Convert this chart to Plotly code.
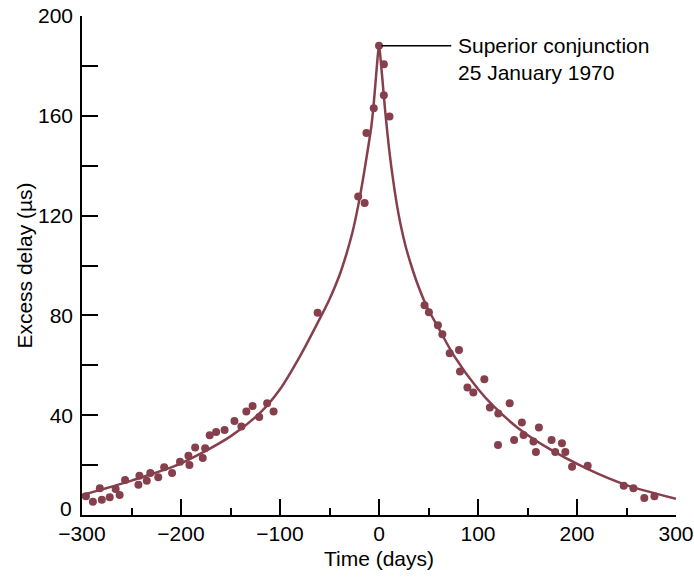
import plotly.graph_objects as go

# measured excess delay points (days, microseconds)
obs_days = [-296, -289, -282, -280, -272, -266, -262, -256.5, -243, -242,
            -234.6, -231, -223, -217, -209, -201, -192.5, -191.5, -185.7, -178,
            -175.6, -171, -164.5, -156, -146, -139, -134, -127.7, -121, -113,
            -106.5, -62, -21, -14.5, -12.7, -5.3, 0, 4.9, 4.9, 10.6,
            46, 50.4, 59.5, 64, 71.4, 80.8, 81.8, 89.3, 95.3, 106.4,
            112, 120.5, 120.2, 132, 136.5, 144.3, 146, 156, 158.5, 161.5,
            174.3, 178, 184.8, 188.2, 195, 210.8, 247.2, 257, 268, 278.2]
obs_delay = [7.5, 5.3, 10.7, 6.1, 7.1, 10.4, 8, 14, 12.1, 15.7,
             13.7, 16.8, 15.1, 19.1, 16.8, 21.3, 23.7, 20, 27.1, 22.8,
             26.8, 32, 33.3, 34.1, 37.7, 35.5, 41.5, 43.7, 39.3, 44.8,
             41.5, 81.1, 127.7, 125.1, 153.1, 163, 188.1, 180.7, 168.2, 159.7,
             84.1, 81.3, 76.1, 72.4, 64.8, 66.1, 57.5, 51.1, 49.1, 54.4,
             43.1, 40.7, 28.1, 44.8, 30.1, 37.1, 32.1, 29.5, 25.3, 35.1,
             30.1, 25.3, 28.8, 25.3, 19.3, 19.7, 11.7, 10.7, 6.8, 7.5]

# predicted curve
fit_days = [-300, -250, -200, -150, -120, -100, -80, -62, -50, -40,
            -33, -27, -21, -16, -11.5, -8, -6, -4, -2, 0,
            2, 4, 6, 8.5, 11, 14, 18, 22, 27, 33,
            39, 48, 60, 76, 100, 116, 140, 170, 211, 250, 300]
fit_delay = [8, 13.8, 20.7, 31.5, 41, 50.4, 63.5, 77, 86.5, 96,
             104.5, 113, 124, 135, 146, 155, 162, 171, 180.5, 188.5,
             181, 172, 163, 153, 144, 135, 124.5, 116, 107.5, 99.5,
             92.5, 83.8, 75, 63.7, 50.5, 43.5, 35, 27, 18.4, 12, 6.5]

x_ticks = [-300, -200, -100, 0, 100, 200, 300]
y_ticks = [0, 40, 80, 120, 160, 200]

note_text = "Superior conjunction<br>25 January 1970"

col = "#863f4c"
font = "Liberation Sans, Arial, Helvetica, sans-serif"

fig = go.Figure()

fig.add_trace(go.Scatter(x=fit_days, y=fit_delay, mode="lines",
                         line=dict(color=col, width=2.5, shape="spline", smoothing=0.8),
                         hoverinfo="skip"))
fig.add_trace(go.Scatter(x=obs_days, y=obs_delay, mode="markers",
                         marker=dict(color=col, size=8)))

# pointer line and label at the peak
i_pk = obs_delay.index(max(obs_delay))
x_pk = obs_days[i_pk]
y_pk = obs_delay[i_pk]
fig.add_shape(type="line", x0=x_pk + 2.5, x1=x_pk + 73, y0=y_pk, y1=y_pk,
              line=dict(color="black", width=1.5))
fig.add_annotation(x=x_pk + 78, y=y_pk, text=note_text, showarrow=False,
                   xanchor="left", yanchor="middle", align="left", yshift=-13,
                   font=dict(size=21, color="black", family=font))

# the y "0" label sits a little higher than its tick, clear of the x labels
fig.add_annotation(x=x_ticks[0], y=y_ticks[0], text=str(y_ticks[0]), showarrow=False,
                   xanchor="right", yanchor="middle", xshift=-8, yshift=7,
                   font=dict(size=21, color="black", family=font))

fig.update_xaxes(range=[-300, 300], tickvals=x_ticks,
                 ticktext=[("\u2212" + str(-v)) if v < 0 else str(v) for v in x_ticks],
                 ticks="inside", ticklen=16, tickwidth=1.5, tickcolor="black",
                 minor=dict(dtick=50, tick0=0, ticks="inside", ticklen=7,
                            tickwidth=1.5, tickcolor="black"),
                 showline=True, linecolor="black", linewidth=1.5,
                 showgrid=False, zeroline=False, ticklabelstandoff=-1,
                 automargin=False,
                 title=dict(text="Time (days)", standoff=7, font=dict(size=21)))
fig.update_yaxes(range=[0, 200], tickvals=y_ticks,
                 ticktext=["" if v == 0 else str(v) for v in y_ticks],
                 ticks="inside", ticklen=16, tickwidth=1.5, tickcolor="black",
                 minor=dict(dtick=20, tick0=0, ticks="inside", ticklen=16,
                            tickwidth=1.5, tickcolor="black"),
                 showline=True, linecolor="black", linewidth=1.5,
                 showgrid=False, zeroline=False, ticklabelstandoff=3,
                 automargin=False,
                 title=dict(text="Excess delay (\u00b5s)", standoff=0, font=dict(size=21)))

fig.update_layout(width=694, height=578, showlegend=False,
                  plot_bgcolor="white", paper_bgcolor="white",
                  margin=dict(l=82, r=18, t=16, b=63),
                  font=dict(family=font, size=21, color="black"))

# page has a default body margin; drop it so the figure fills the window
fig.write_html("out.html", config={"displayModeBar": False},
               post_script="document.body.style.margin='0px';")
